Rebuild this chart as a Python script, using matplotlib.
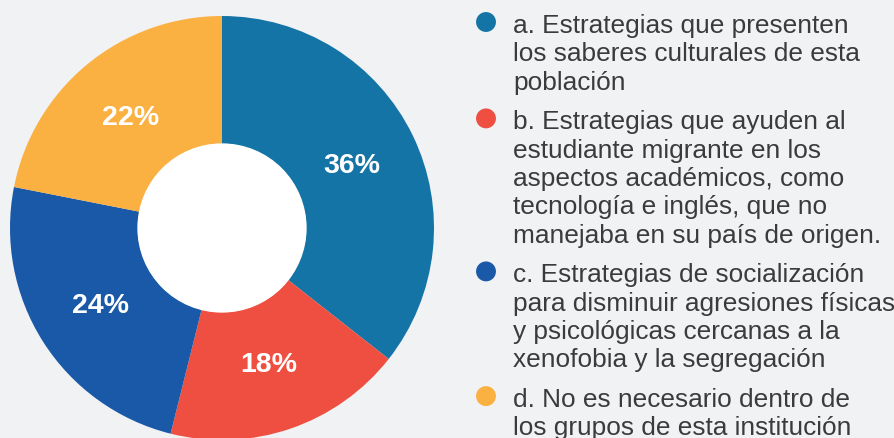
import matplotlib
matplotlib.use('Agg')
import matplotlib.pyplot as plt
from matplotlib.patches import Circle

plt.rcParams['font.family'] = ['Liberation Sans', 'DejaVu Sans']

# data
shares = [35.6, 18.3, 24.2, 21.9]
colors = ['#1474a6', '#ee4f40', '#1a58a8', '#fbb042']
legend_labels = [
    'a. Estrategias que presenten\nlos saberes culturales de esta\npoblación',
    'b. Estrategias que ayuden al\nestudiante migrante en los\naspectos académicos, como\n'
    'tecnología e inglés, que no\nmanejaba en su país de origen.',
    'c. Estrategias de socialización\npara disminuir agresiones físicas\n'
    'y psicológicas cercanas a la\nxenofobia y la segregación',
    'd. No es necesario dentro de\nlos grupos de esta institución',
]

bg = '#f1f2f4'
W, H = 895, 439
fig = plt.figure(figsize=(W / 100, H / 100), dpi=100, facecolor=bg)

# donut
ax = fig.add_axes([10 / W, -2 / H, 424 / W, 424 / H])
wedges, texts, autotexts = ax.pie(
    shares, colors=colors, startangle=90, counterclock=False,
    autopct=lambda p: f'{p:.0f}%', pctdistance=0.68,
    wedgeprops=dict(width=0.604, linewidth=0),
    textprops=dict(color='white', fontsize=20.5, fontweight='bold'))
ax.add_patch(Circle((0, 0), 0.396, color='white', zorder=3))
ax.set_xlim(-1, 1)
ax.set_ylim(-1, 1)

# legend drawn by hand (multi-line entries, marker on first line)
lg = fig.add_axes([0, 0, 1, 1])
lg.set_xlim(0, W)
lg.set_ylim(H, 0)
lg.axis('off')

line_h = 28.3
y = 33
for lab, col in zip(legend_labels, colors):
    lg.scatter([486], [y - 10], s=205, color=col, edgecolors='none')
    for i, line in enumerate(lab.split('\n')):
        lg.text(513, y + i * line_h, line, fontsize=18.9, color='#3b3b3b',
                va='baseline', ha='left')
    y += (lab.count('\n') + 1) * line_h + 11.5

fig.savefig('out.png', dpi=100, facecolor=bg)
